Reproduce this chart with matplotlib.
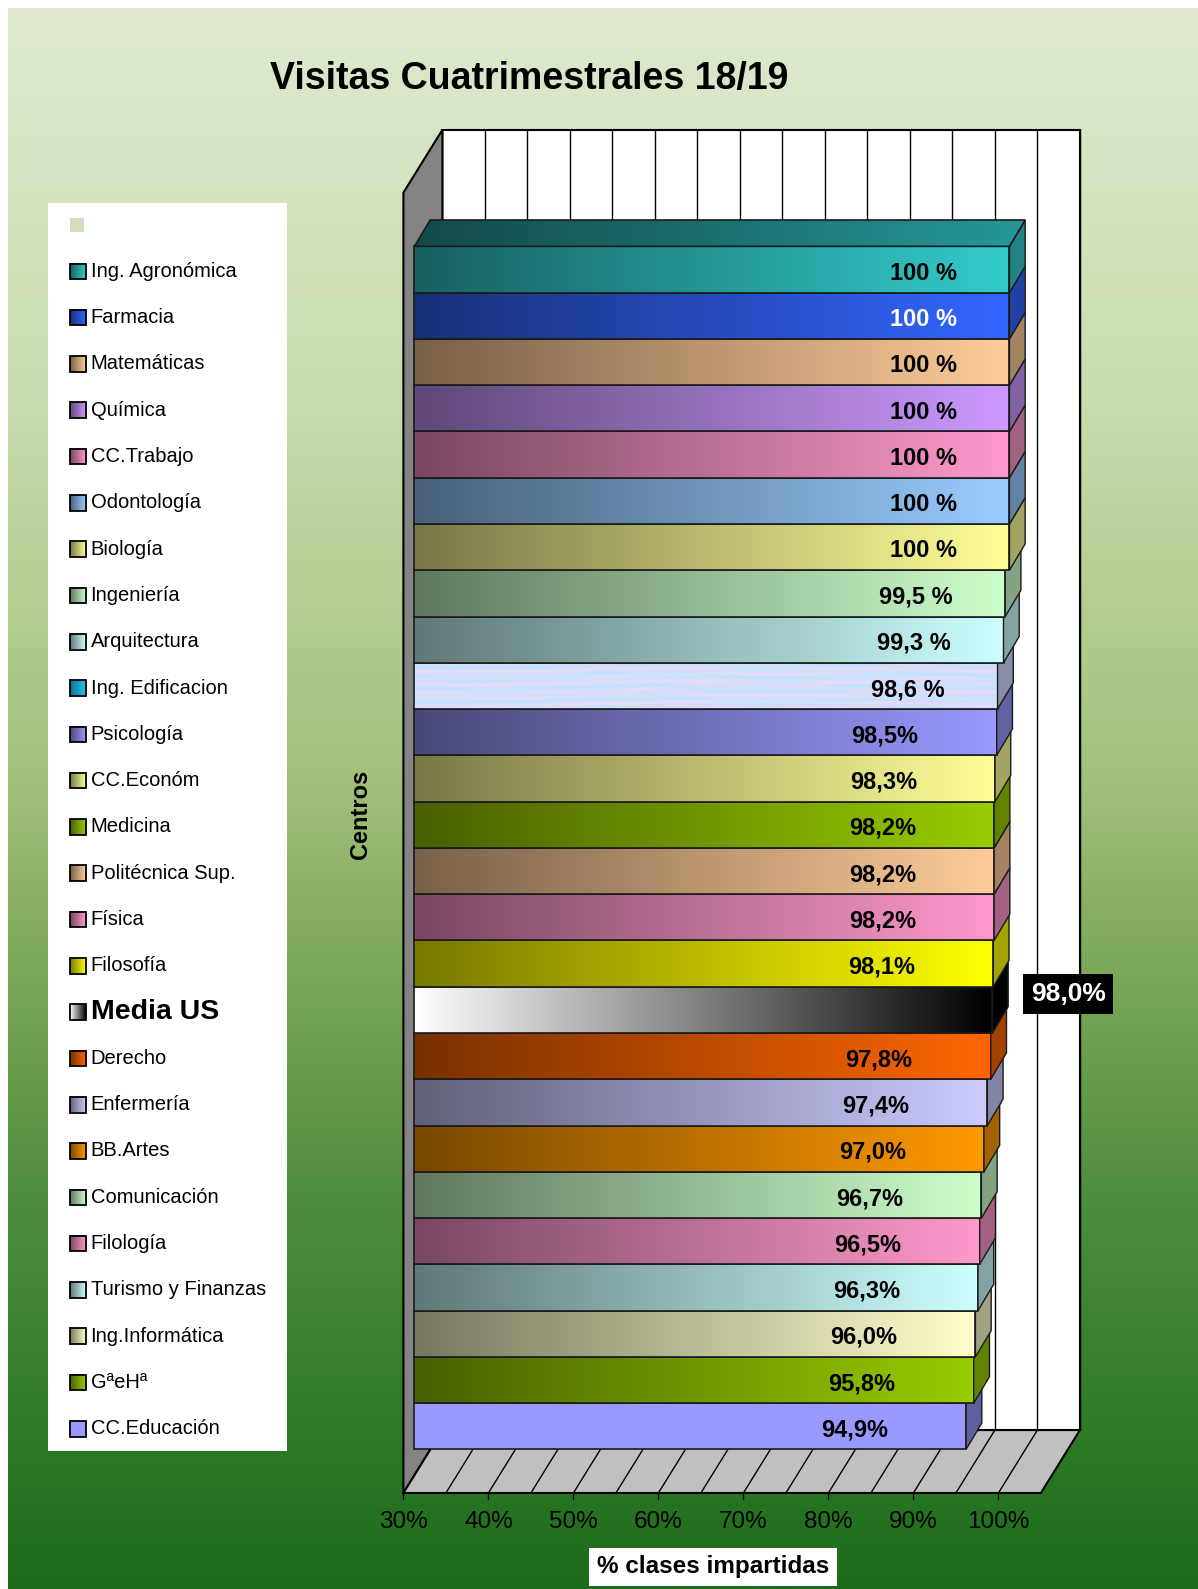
import numpy as np
import matplotlib
matplotlib.use("Agg")
import matplotlib.pyplot as plt
from matplotlib.patches import Polygon, Rectangle
from matplotlib.colors import to_rgb

plt.rcParams["font.family"] = ["Liberation Sans", "DejaVu Sans"]

# datos (de arriba a abajo)
centros = ["Ing. Agronómica", "Farmacia", "Matemáticas", "Química", "CC.Trabajo",
           "Odontología", "Biología", "Ingeniería", "Arquitectura", "Ing. Edificacion",
           "Psicología", "CC.Económ", "Medicina", "Politécnica Sup.", "Física",
           "Filosofía", "Media US", "Derecho", "Enfermería", "BB.Artes",
           "Comunicación", "Filología", "Turismo y Finanzas", "Ing.Informática",
           "GªeHª", "CC.Educación"]
porcentaje = [100, 100, 100, 100, 100, 100, 100, 99.5, 99.3, 98.6,
              98.5, 98.3, 98.2, 98.2, 98.2, 98.1, 98.0, 97.8, 97.4, 97.0,
              96.7, 96.5, 96.3, 96.0, 95.8, 94.9]
etiquetas = ["100 %", "100 %", "100 %", "100 %", "100 %", "100 %", "100 %",
             "99,5 %", "99,3 %", "98,6 %", "98,5%", "98,3%", "98,2%", "98,2%",
             "98,2%", "98,1%", "98,0%", "97,8%", "97,4%", "97,0%", "96,7%",
             "96,5%", "96,3%", "96,0%", "95,8%", "94,9%"]
colores = ["#33cccc", "#3366ff", "#ffcc99", "#cc99ff", "#ff99cc",
           "#99ccff", "#ffff99", "#ccffcc", "#ccffff", "#d8e2f6",
           "#9999ff", "#ffff99", "#99cc00", "#ffcc99", "#ff99cc",
           "#ffff00", "#000000", "#ff6600", "#ccccff", "#ff9900",
           "#ccffcc", "#ff99cc", "#ccffff", "#ffffcc", "#99cc00", "#9999ff"]
ticks = [30, 40, 50, 60, 70, 80, 90, 100]
tick_labels = ["30%", "40%", "50%", "60%", "70%", "80%", "90%", "100%"]

# geometria (pixeles de la figura)
W, H = 1198, 1589
PX_X30, PX_PCT = 403.4, 8.5
PX_Y0, PX_ROW = 1449.4, 46.27
X0, X1 = 30, 105
WDX, WDY = 4.59, 1.36      # profundidad de las paredes
BDX, BDY = 1.85, 0.57      # profundidad de las barras
OX = 1.3
FLOOR_Y, TOP_Y = -0.942, 27.16


def hgrad(c0, c1, n=256):
    t = np.linspace(0, 1, n)[None, :, None]
    return (1 - t) * np.array(c0)[None, None, :] + t * np.array(c1)[None, None, :]


def face_colors(i):
    light = np.array(to_rgb(colores[i]))
    if centros[i] == "Media US":
        return (1.0, 1.0, 1.0), (0.0, 0.0, 0.0), (0.0, 0.0, 0.0)
    if centros[i] == "CC.Educación":
        return light, light, light * 0.62
    if centros[i] == "Ing. Edificacion":
        return np.array([0.0, 0.45, 0.6]), np.array([0.2, 0.75, 0.9]), np.array([0.53, 0.56, 0.66])
    return light * 0.47, light, light * 0.64


def textura():
    xx, yy = np.meshgrid(np.linspace(0, 60, 600), np.linspace(0, 8, 60))
    t = 0.5 + 0.5 * np.sin(yy * 3.1 + 1.4 * np.sin(xx * 0.21) + 0.6 * np.sin(xx * 0.57 + yy))
    s = 0.5 + 0.5 * np.sin(yy * 5.3 + 2.0 * np.sin(xx * 0.11 + 1.0))
    a = np.array([0.76, 0.88, 0.99])
    b = np.array([0.92, 0.84, 0.96])
    c = np.array([0.86, 0.90, 0.98])
    img = (1 - t)[..., None] * a + t[..., None] * b
    return 0.6 * img + 0.4 * ((1 - s)[..., None] * c + s[..., None] * a)


fig = plt.figure(figsize=(W / 100, H / 100), dpi=100)
fig.patch.set_facecolor("white")

# fondo degradado
ax_bg = fig.add_axes([8 / W, 0, 1 - 8 / W, 1 - 8 / H])
ax_bg.set_axis_off()
pos = [0.0, 0.25, 0.37, 0.5, 0.62, 0.75, 0.88, 1.0]
stops = np.array([(222, 233, 207), (200, 220, 175), (182, 206, 148), (160, 190, 120),
                  (120, 165, 85), (80, 142, 62), (50, 125, 40), (28, 108, 28)]) / 255
yy = np.linspace(0, 1, 400)
bg = np.stack([np.interp(yy, pos, stops[:, c]) for c in range(3)], axis=-1)[:, None, :]
ax_bg.imshow(bg, aspect="auto", interpolation="bilinear")

ax = fig.add_axes([0, 0, 1, 1], facecolor="none")
ax.set_axis_off()
xlim = (X0 - PX_X30 / PX_PCT, X0 + (W - PX_X30) / PX_PCT)
ylim = ((PX_Y0 - H) / PX_ROW, PX_Y0 / PX_ROW)

# paredes y suelo
ax.add_patch(Polygon([(X0 + WDX, FLOOR_Y + WDY), (X1 + WDX, FLOOR_Y + WDY),
                      (X1 + WDX, TOP_Y + WDY), (X0 + WDX, TOP_Y + WDY)],
                     fc="white", ec="black", lw=1.5, zorder=1))
for g in range(X0, X1 + 1, 5):
    ax.plot([g + WDX, g + WDX], [FLOOR_Y + WDY, TOP_Y + WDY], color="black", lw=1.0, zorder=1.5)
ax.add_patch(Polygon([(X0, FLOOR_Y), (X0, TOP_Y), (X0 + WDX, TOP_Y + WDY), (X0 + WDX, FLOOR_Y + WDY)],
                     fc="#848484", ec="black", lw=1.5, zorder=2))
ax.add_patch(Polygon([(X0, FLOOR_Y), (X1, FLOOR_Y), (X1 + WDX, FLOOR_Y + WDY), (X0 + WDX, FLOOR_Y + WDY)],
                     fc="#c0c0c0", ec="black", lw=1.5, zorder=2))
for g in range(X0 + 5, X1, 5):
    ax.plot([g, g + WDX], [FLOOR_Y, FLOOR_Y + WDY], color="black", lw=1.0, zorder=2.5)
for t, lab in zip(ticks, tick_labels):
    ax.plot([t, t], [FLOOR_Y, FLOOR_Y - 0.13], color="black", lw=1.0, zorder=2.5)
    ax.text(t, -1.56, lab, ha="center", va="center", fontsize=17.5)

# barras 3D, de abajo hacia arriba
n = len(centros)
for i in reversed(range(n)):
    row = n - 1 - i
    v = porcentaje[i]
    left, right = X0 + OX, v + OX
    z = 10 + row * 3
    c0, c1, cs = face_colors(i)
    img = textura() if centros[i] == "Ing. Edificacion" else hgrad(c0, c1)
    ax.imshow(img, extent=[left, right, row, row + 1], aspect="auto", origin="lower",
              interpolation="bilinear", zorder=z)
    ax.add_patch(Rectangle((left, row), right - left, 1, fill=False, ec="#1a1a1a", lw=1.2, zorder=z + 0.5))
    ax.add_patch(Polygon([(right, row), (right, row + 1), (right + BDX, row + 1 + BDY), (right + BDX, row + BDY)],
                         fc=cs, ec="#1a1a1a", lw=1.0, zorder=z + 1))
    if i == 0:
        top = Polygon([(left, row + 1), (right, row + 1), (right + BDX, row + 1 + BDY), (left + BDX, row + 1 + BDY)],
                      closed=True, transform=ax.transData, fc="none", ec="#1a1a1a", lw=1.2, zorder=z + 1.5)
        im = ax.imshow(hgrad(np.array(c1) * 0.36, np.array(c1) * 0.74), extent=[left, right + BDX, row + 1, row + 1 + BDY],
                       aspect="auto", origin="lower", interpolation="bilinear", zorder=z + 1.2)
        im.set_clip_path(top)
        ax.add_patch(top)
    if centros[i] == "Media US":
        ax.text(v + OX + 8.9, row + 0.84, etiquetas[i], ha="center", va="center", fontsize=19,
                fontweight="bold", color="white", zorder=200,
                bbox=dict(boxstyle="square,pad=0.3", fc="black", ec="none"))
    else:
        color_txt = "white" if centros[i] == "Farmacia" else "black"
        gap = 6.2 if " %" in etiquetas[i] else 9.2
        ax.text(right - gap, row + 0.42, etiquetas[i], ha="right", va="center", fontsize=17,
                fontweight="bold", color=color_txt, zorder=200)

ax.text(25.0, 13.73, "Centros", rotation=90, ha="center", va="center", fontsize=17, fontweight="bold")
ax.text(66.4, -2.54, "% clases impartidas", ha="center", va="center", fontsize=17.5, fontweight="bold",
        bbox=dict(boxstyle="square,pad=0.32", fc="white", ec="none"))
ax.set_xlim(*xlim)
ax.set_ylim(*ylim)
ax.set_aspect("auto")

fig.text(529 / W, 1 - 79 / H, "Visitas Cuatrimestrales 18/19", ha="center", va="center",
         fontsize=27, fontweight="bold")

# leyenda
LW, LH = 239.2, 1248.7
ax_leg = fig.add_axes([47.6 / W, 1 - 1451.4 / H, LW / W, LH / H])
ax_leg.set_axis_off()
ax_leg.add_patch(Rectangle((0, 0), LW, LH, fc="white", ec="none"))
entradas = [""] + centros
for k, nombre in enumerate(entradas):
    yc = 22.3 + 46.3 * k
    if k == 0:
        ax_leg.add_patch(Rectangle((22.4, yc - 7), 14, 14, fc="#d0dfc0", ec="none"))
        continue
    c0, c1, _ = face_colors(k - 1)
    ax_leg.imshow(hgrad(c0, c1), extent=[22.4, 38, yc + 7.8, yc - 7.8], aspect="auto",
                  interpolation="bilinear", zorder=2)
    ax_leg.add_patch(Rectangle((22.4, yc - 7.8), 15.6, 15.6, fill=False, ec="black", lw=1.3, zorder=3))
    if nombre == "Media US":
        ax_leg.text(43, yc, nombre, ha="left", va="center", fontsize=20.5, fontweight="bold")
    else:
        ax_leg.text(43, yc, nombre, ha="left", va="center", fontsize=14.5)
ax_leg.set_xlim(0, LW)
ax_leg.set_ylim(LH, 0)
ax_leg.set_aspect("auto")

fig.savefig("out.png", dpi=100)
